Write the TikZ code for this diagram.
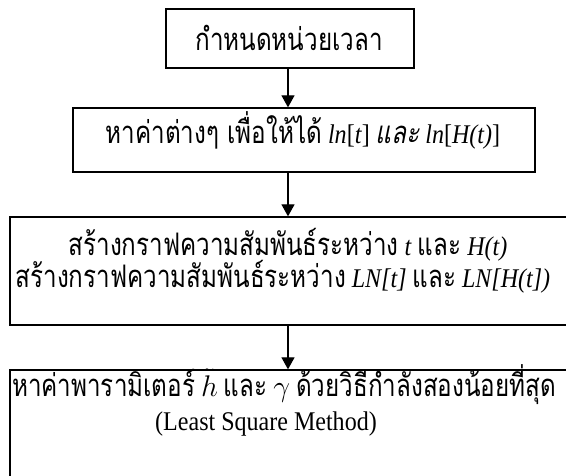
\documentclass[tikz,border=0pt]{standalone}
\usepackage{fontspec}
\setmainfont[FakeStretch=0.89]{Liberation Serif}
\newfontfamily\thai[Script=Thai,FakeStretch=0.78,Scale=1.15]{Loma}
\newfontfamily\thaiit[Script=Thai,FakeStretch=0.78,FakeSlant=0.2,Scale=1.15]{Loma}
\newcommand\bigmath[1]{\scalebox{1.2}{$#1$}}
\usetikzlibrary{arrows.meta}
\tikzset{
  box/.style={draw=black, line width=1.3pt, rectangle, inner sep=0pt},
  lbl/.style={anchor=base, inner sep=0pt, font=\fontsize{27}{32}\selectfont},
  arr/.style={line width=1.3pt, -{Triangle[length=12pt,width=13pt]}}
}
\begin{document}
\begin{tikzpicture}[x=1pt,y=-1pt]
\useasboundingbox (0,0) rectangle (566,476);
\clip (0,0) rectangle (566,476);
\node[box, minimum width=248pt, minimum height=59pt] (b1) at (290,38.5) {};
\node[box, minimum width=462pt, minimum height=64pt] (b2) at (304,140) {};
\node[box, minimum width=560pt, minimum height=108pt] (b3) at (290,271) {};
\node[box, minimum width=560pt, minimum height=112pt] (b4) at (290,426) {};
\coordinate (ax) at (288,0);
\node[lbl] (t1) at (289,51) {{\thai กำหนดหน่วยเวลา}};
\node[lbl] (t2) at (303,144) {{\thai หาค่าต่างๆ เพื่อให้ได้} \textit{ln}[\textit{t}] {\thaiit และ} \textit{ln}[\textit{H(t)}]};
\node[lbl] (t3) at (288,256) {{\thai สร้างกราฟความสัมพันธ์ระหว่าง} \textit{t} {\thai และ} \textit{H(t)}};
\node[lbl] (t4) at (283,288) {{\thai สร้างกราฟความสัมพันธ์ระหว่าง} \textit{LN[t]} {\thai และ} \textit{LN[H(t])}};
\node[lbl] (t5) at (284,396) {{\thai หาค่าพารามิเตอร์} \bigmath{\tilde{h}} {\thai และ} \bigmath{\gamma} {\thai ด้วยวิธีกำลังสองน้อยที่สุด}};
\node[lbl] (t6) at (266,431) {(Least Square Method)};
\draw[arr] (b1.south -| ax) -- (b2.north -| ax);
\draw[arr] (b2.south -| ax) -- (b3.north -| ax);
\draw[arr] (b3.south -| ax) -- (b4.north -| ax);
\end{tikzpicture}
\end{document}
